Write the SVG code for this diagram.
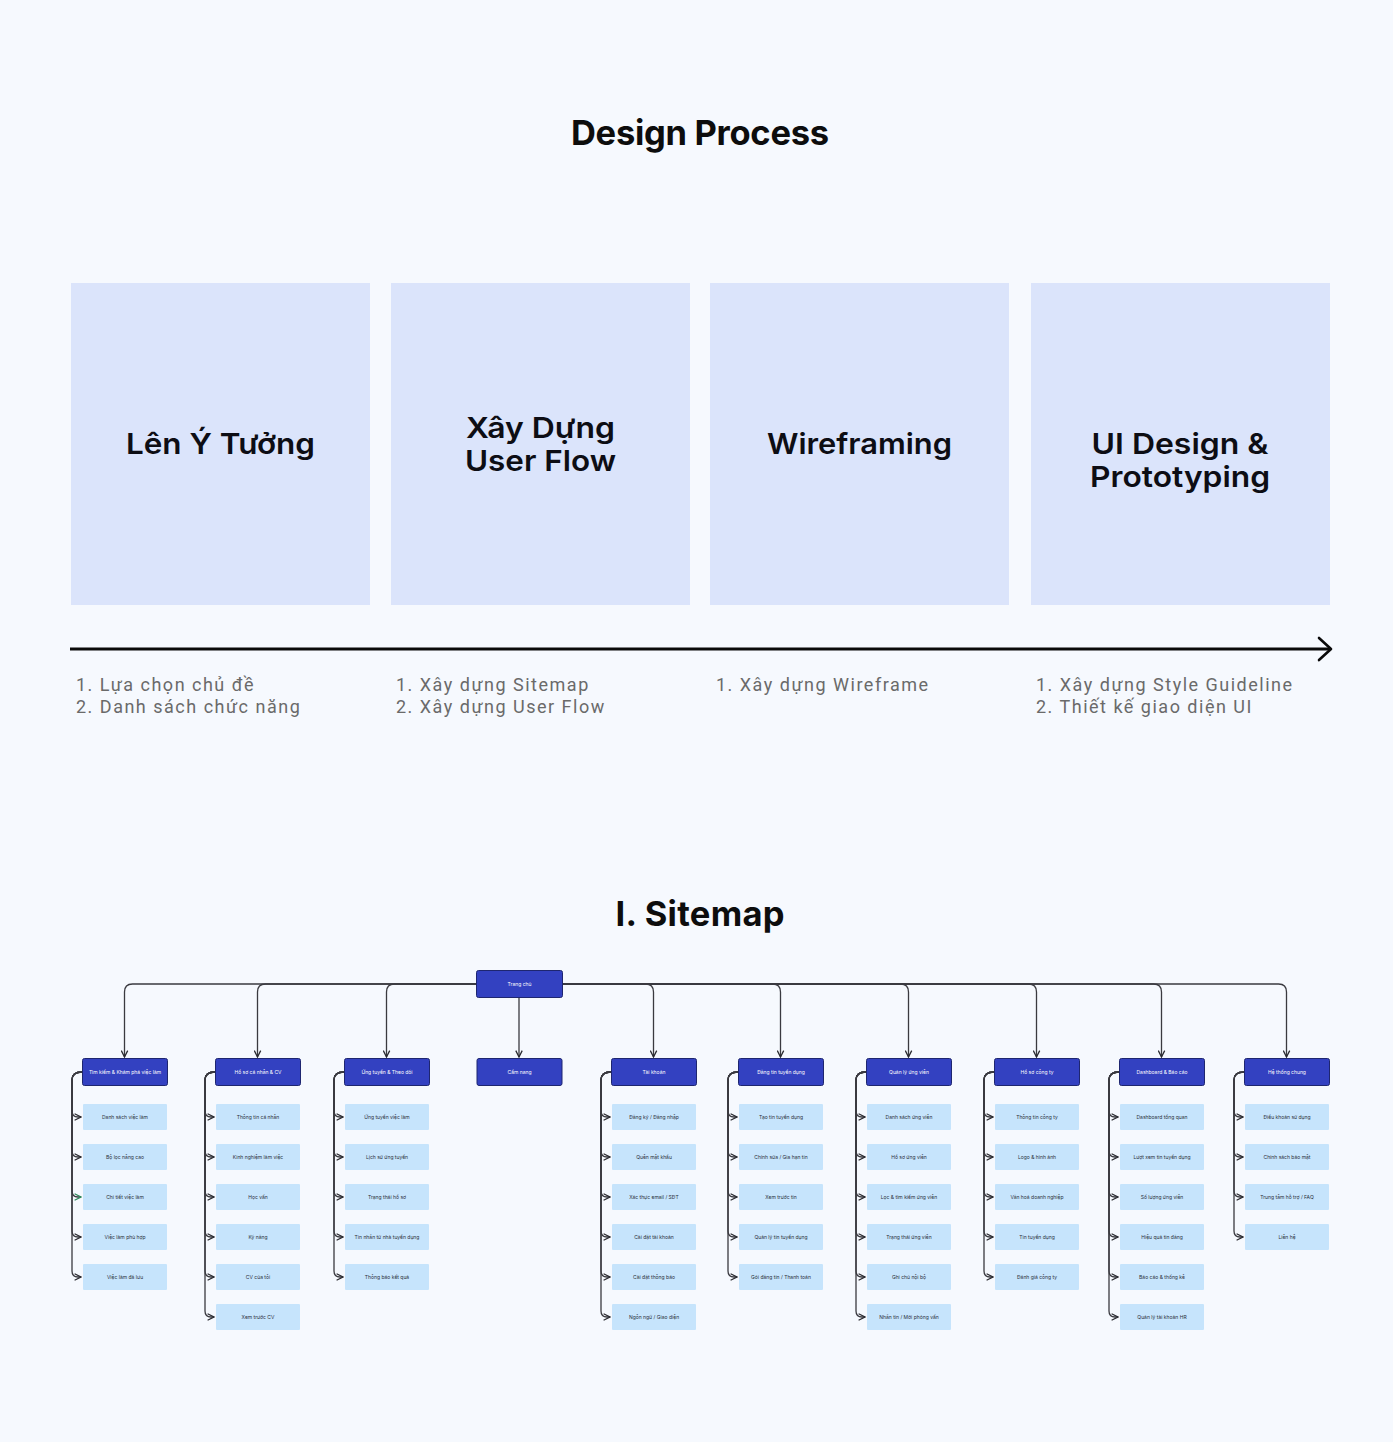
<svg xmlns="http://www.w3.org/2000/svg" width="1393" height="1442" viewBox="0 0 1393 1442">
<style>
.title{font-family:Inter,"Liberation Sans",sans-serif;font-weight:700;font-size:34.5px;fill:#0d0d0d;text-anchor:middle}
.phase{fill:#dbe4fb}
.ptxt{font-family:Inter,"Liberation Sans",sans-serif;font-weight:600;font-size:29px;fill:#0d0d14;text-anchor:middle}
.list{font-family:Roboto,"Liberation Sans",sans-serif;font-weight:400;font-size:18px;fill:#6a6a6a;letter-spacing:1.5px}
.l1{fill:#3341c1;stroke:#1e2670;stroke-width:1}
.l1t{font-family:Inter,"Liberation Sans",sans-serif;font-size:5px;fill:#ffffff;text-anchor:middle}
.ch{fill:#c6e4fc}
.cht{font-family:Inter,"Liberation Sans",sans-serif;font-size:5px;fill:#2a2f3a;text-anchor:middle}
.con{fill:none;stroke:#3a3a40;stroke-width:1.3}
</style>
<defs>
<marker id="ah" viewBox="0 0 10 10" refX="9" refY="5" markerWidth="8" markerHeight="8" markerUnits="userSpaceOnUse" orient="auto"><path d="M1,1 L9,5 L1,9" fill="none" stroke="#2a2a30" stroke-width="1.6"/></marker>
<marker id="ahg" viewBox="0 0 10 10" refX="9" refY="5" markerWidth="8" markerHeight="8" markerUnits="userSpaceOnUse" orient="auto"><path d="M1,1 L9,5 L1,9" fill="none" stroke="#2f8a5c" stroke-width="1.6"/></marker>
</defs>
<rect width="1393" height="1442" fill="#f6f9fe"/>

<text class="title" x="700" y="145" textLength="258">Design Process</text>

<g id="phase1"><rect class="phase" x="71" y="283" width="299" height="322"/><text class="ptxt" x="220.5" y="454" textLength="189" lengthAdjust="spacingAndGlyphs">Lên Ý Tưởng</text></g>
<g id="phase2"><rect class="phase" x="391" y="283" width="299" height="322"/><text class="ptxt" x="540.5" y="438" textLength="149" lengthAdjust="spacingAndGlyphs">Xây Dựng</text><text class="ptxt" x="540.5" y="471" textLength="151" lengthAdjust="spacingAndGlyphs">User Flow</text></g>
<g id="phase3"><rect class="phase" x="710" y="283" width="299" height="322"/><text class="ptxt" x="859.5" y="454" textLength="185" lengthAdjust="spacingAndGlyphs">Wireframing</text></g>
<g id="phase4"><rect class="phase" x="1031" y="283" width="299" height="322"/><text class="ptxt" x="1180" y="454" textLength="177" lengthAdjust="spacingAndGlyphs">UI Design &amp;</text><text class="ptxt" x="1180" y="487" textLength="180" lengthAdjust="spacingAndGlyphs">Prototyping</text></g>

<g id="timeline"><path d="M70 649 H1330" stroke="#0a0a0a" stroke-width="3" fill="none"/><path d="M1319 638 L1331 649 L1319 660" stroke="#0a0a0a" stroke-width="2.6" fill="none" stroke-linecap="round" stroke-linejoin="round"/></g>

<g id="notes">
<text class="list" x="76" y="691">1. Lựa chọn chủ đề</text>
<text class="list" x="76" y="713">2. Danh sách chức năng</text>
<text class="list" x="396" y="691">1. Xây dựng Sitemap</text>
<text class="list" x="396" y="713">2. Xây dựng User Flow</text>
<text class="list" x="716" y="691">1. Xây dựng Wireframe</text>
<text class="list" x="1036" y="691">1. Xây dựng Style Guideline</text>
<text class="list" x="1036" y="713">2. Thiết kế giao diện UI</text>
</g>

<text class="title" x="700" y="926" textLength="169">I. Sitemap</text>

<g id="connectors">
<path class="con" marker-end="url(#ah)" d="M476 984 H132.5 Q124.5 984 124.5 992 V1057"/>
<path class="con" marker-end="url(#ah)" d="M476 984 H265.5 Q257.5 984 257.5 992 V1057"/>
<path class="con" marker-end="url(#ah)" d="M476 984 H394.5 Q386.5 984 386.5 992 V1057"/>
<path class="con" marker-end="url(#ah)" d="M519 997 V1057"/>
<path class="con" marker-end="url(#ah)" d="M562 984 H645.5 Q653.5 984 653.5 992 V1057"/>
<path class="con" marker-end="url(#ah)" d="M562 984 H772.5 Q780.5 984 780.5 992 V1057"/>
<path class="con" marker-end="url(#ah)" d="M562 984 H900.5 Q908.5 984 908.5 992 V1057"/>
<path class="con" marker-end="url(#ah)" d="M562 984 H1028.5 Q1036.5 984 1036.5 992 V1057"/>
<path class="con" marker-end="url(#ah)" d="M562 984 H1153.5 Q1161.5 984 1161.5 992 V1057"/>
<path class="con" marker-end="url(#ah)" d="M562 984 H1278.5 Q1286.5 984 1286.5 992 V1057"/>

<!-- col1 -->
<path class="con" marker-end="url(#ah)" d="M82 1072 Q72 1072 72 1080 V1111 Q72 1117 78 1117 H81"/>
<path class="con" marker-end="url(#ah)" d="M82 1072 Q72 1072 72 1080 V1151 Q72 1157 78 1157 H81"/>
<path class="con" marker-end="url(#ahg)" d="M82 1072 Q72 1072 72 1080 V1191 Q72 1197 78 1197 H81"/>
<path class="con" marker-end="url(#ah)" d="M82 1072 Q72 1072 72 1080 V1231 Q72 1237 78 1237 H81"/>
<path class="con" marker-end="url(#ah)" d="M82 1072 Q72 1072 72 1080 V1271 Q72 1277 78 1277 H81"/>
<!-- col2 -->
<path class="con" marker-end="url(#ah)" d="M215 1072 Q205 1072 205 1080 V1111 Q205 1117 211 1117 H214"/>
<path class="con" marker-end="url(#ah)" d="M215 1072 Q205 1072 205 1080 V1151 Q205 1157 211 1157 H214"/>
<path class="con" marker-end="url(#ah)" d="M215 1072 Q205 1072 205 1080 V1191 Q205 1197 211 1197 H214"/>
<path class="con" marker-end="url(#ah)" d="M215 1072 Q205 1072 205 1080 V1231 Q205 1237 211 1237 H214"/>
<path class="con" marker-end="url(#ah)" d="M215 1072 Q205 1072 205 1080 V1271 Q205 1277 211 1277 H214"/>
<path class="con" marker-end="url(#ah)" d="M215 1072 Q205 1072 205 1080 V1311 Q205 1317 211 1317 H214"/>
<!-- col3 -->
<path class="con" marker-end="url(#ah)" d="M344 1072 Q334 1072 334 1080 V1111 Q334 1117 340 1117 H343"/>
<path class="con" marker-end="url(#ah)" d="M344 1072 Q334 1072 334 1080 V1151 Q334 1157 340 1157 H343"/>
<path class="con" marker-end="url(#ah)" d="M344 1072 Q334 1072 334 1080 V1191 Q334 1197 340 1197 H343"/>
<path class="con" marker-end="url(#ah)" d="M344 1072 Q334 1072 334 1080 V1231 Q334 1237 340 1237 H343"/>
<path class="con" marker-end="url(#ah)" d="M344 1072 Q334 1072 334 1080 V1271 Q334 1277 340 1277 H343"/>
<!-- col5 -->
<path class="con" marker-end="url(#ah)" d="M611 1072 Q601 1072 601 1080 V1111 Q601 1117 607 1117 H610"/>
<path class="con" marker-end="url(#ah)" d="M611 1072 Q601 1072 601 1080 V1151 Q601 1157 607 1157 H610"/>
<path class="con" marker-end="url(#ah)" d="M611 1072 Q601 1072 601 1080 V1191 Q601 1197 607 1197 H610"/>
<path class="con" marker-end="url(#ah)" d="M611 1072 Q601 1072 601 1080 V1231 Q601 1237 607 1237 H610"/>
<path class="con" marker-end="url(#ah)" d="M611 1072 Q601 1072 601 1080 V1271 Q601 1277 607 1277 H610"/>
<path class="con" marker-end="url(#ah)" d="M611 1072 Q601 1072 601 1080 V1311 Q601 1317 607 1317 H610"/>
<!-- col6 -->
<path class="con" marker-end="url(#ah)" d="M738 1072 Q728 1072 728 1080 V1111 Q728 1117 734 1117 H737"/>
<path class="con" marker-end="url(#ah)" d="M738 1072 Q728 1072 728 1080 V1151 Q728 1157 734 1157 H737"/>
<path class="con" marker-end="url(#ah)" d="M738 1072 Q728 1072 728 1080 V1191 Q728 1197 734 1197 H737"/>
<path class="con" marker-end="url(#ah)" d="M738 1072 Q728 1072 728 1080 V1231 Q728 1237 734 1237 H737"/>
<path class="con" marker-end="url(#ah)" d="M738 1072 Q728 1072 728 1080 V1271 Q728 1277 734 1277 H737"/>
<!-- col7 -->
<path class="con" marker-end="url(#ah)" d="M866 1072 Q856 1072 856 1080 V1111 Q856 1117 862 1117 H865"/>
<path class="con" marker-end="url(#ah)" d="M866 1072 Q856 1072 856 1080 V1151 Q856 1157 862 1157 H865"/>
<path class="con" marker-end="url(#ah)" d="M866 1072 Q856 1072 856 1080 V1191 Q856 1197 862 1197 H865"/>
<path class="con" marker-end="url(#ah)" d="M866 1072 Q856 1072 856 1080 V1231 Q856 1237 862 1237 H865"/>
<path class="con" marker-end="url(#ah)" d="M866 1072 Q856 1072 856 1080 V1271 Q856 1277 862 1277 H865"/>
<path class="con" marker-end="url(#ah)" d="M866 1072 Q856 1072 856 1080 V1311 Q856 1317 862 1317 H865"/>
<!-- col8 -->
<path class="con" marker-end="url(#ah)" d="M994 1072 Q984 1072 984 1080 V1111 Q984 1117 990 1117 H993"/>
<path class="con" marker-end="url(#ah)" d="M994 1072 Q984 1072 984 1080 V1151 Q984 1157 990 1157 H993"/>
<path class="con" marker-end="url(#ah)" d="M994 1072 Q984 1072 984 1080 V1191 Q984 1197 990 1197 H993"/>
<path class="con" marker-end="url(#ah)" d="M994 1072 Q984 1072 984 1080 V1231 Q984 1237 990 1237 H993"/>
<path class="con" marker-end="url(#ah)" d="M994 1072 Q984 1072 984 1080 V1271 Q984 1277 990 1277 H993"/>
<!-- col9 -->
<path class="con" marker-end="url(#ah)" d="M1119 1072 Q1109 1072 1109 1080 V1111 Q1109 1117 1115 1117 H1118"/>
<path class="con" marker-end="url(#ah)" d="M1119 1072 Q1109 1072 1109 1080 V1151 Q1109 1157 1115 1157 H1118"/>
<path class="con" marker-end="url(#ah)" d="M1119 1072 Q1109 1072 1109 1080 V1191 Q1109 1197 1115 1197 H1118"/>
<path class="con" marker-end="url(#ah)" d="M1119 1072 Q1109 1072 1109 1080 V1231 Q1109 1237 1115 1237 H1118"/>
<path class="con" marker-end="url(#ah)" d="M1119 1072 Q1109 1072 1109 1080 V1271 Q1109 1277 1115 1277 H1118"/>
<path class="con" marker-end="url(#ah)" d="M1119 1072 Q1109 1072 1109 1080 V1311 Q1109 1317 1115 1317 H1118"/>
<!-- col10 -->
<path class="con" marker-end="url(#ah)" d="M1244 1072 Q1234 1072 1234 1080 V1111 Q1234 1117 1240 1117 H1243"/>
<path class="con" marker-end="url(#ah)" d="M1244 1072 Q1234 1072 1234 1080 V1151 Q1234 1157 1240 1157 H1243"/>
<path class="con" marker-end="url(#ah)" d="M1244 1072 Q1234 1072 1234 1080 V1191 Q1234 1197 1240 1197 H1243"/>
<path class="con" marker-end="url(#ah)" d="M1244 1072 Q1234 1072 1234 1080 V1231 Q1234 1237 1240 1237 H1243"/>
</g>

<g id="home"><rect class="l1" x="476.5" y="970.5" width="86" height="27" rx="2"/><text class="l1t" x="519.5" y="985.8">Trang chủ</text></g>

<g id="col1">
<rect class="l1" x="82.5" y="1058.5" width="85" height="27" rx="2"/><text class="l1t" x="125" y="1073.8">Tìm kiếm &amp; Khám phá việc làm</text>
<rect class="ch" x="83" y="1104" width="84" height="26" rx="1"/><text class="cht" x="125" y="1118.8">Danh sách việc làm</text>
<rect class="ch" x="83" y="1144" width="84" height="26" rx="1"/><text class="cht" x="125" y="1158.8">Bộ lọc nâng cao</text>
<rect class="ch" x="83" y="1184" width="84" height="26" rx="1"/><text class="cht" x="125" y="1198.8">Chi tiết việc làm</text>
<rect class="ch" x="83" y="1224" width="84" height="26" rx="1"/><text class="cht" x="125" y="1238.8">Việc làm phù hợp</text>
<rect class="ch" x="83" y="1264" width="84" height="26" rx="1"/><text class="cht" x="125" y="1278.8">Việc làm đã lưu</text>
</g>
<g id="col2">
<rect class="l1" x="215.5" y="1058.5" width="85" height="27" rx="2"/><text class="l1t" x="258" y="1073.8">Hồ sơ cá nhân &amp; CV</text>
<rect class="ch" x="216" y="1104" width="84" height="26" rx="1"/><text class="cht" x="258" y="1118.8">Thông tin cá nhân</text>
<rect class="ch" x="216" y="1144" width="84" height="26" rx="1"/><text class="cht" x="258" y="1158.8">Kinh nghiệm làm việc</text>
<rect class="ch" x="216" y="1184" width="84" height="26" rx="1"/><text class="cht" x="258" y="1198.8">Học vấn</text>
<rect class="ch" x="216" y="1224" width="84" height="26" rx="1"/><text class="cht" x="258" y="1238.8">Kỹ năng</text>
<rect class="ch" x="216" y="1264" width="84" height="26" rx="1"/><text class="cht" x="258" y="1278.8">CV của tôi</text>
<rect class="ch" x="216" y="1304" width="84" height="26" rx="1"/><text class="cht" x="258" y="1318.8">Xem trước CV</text>
</g>
<g id="col3">
<rect class="l1" x="344.5" y="1058.5" width="85" height="27" rx="2"/><text class="l1t" x="387" y="1073.8">Ứng tuyển &amp; Theo dõi</text>
<rect class="ch" x="345" y="1104" width="84" height="26" rx="1"/><text class="cht" x="387" y="1118.8">Ứng tuyển việc làm</text>
<rect class="ch" x="345" y="1144" width="84" height="26" rx="1"/><text class="cht" x="387" y="1158.8">Lịch sử ứng tuyển</text>
<rect class="ch" x="345" y="1184" width="84" height="26" rx="1"/><text class="cht" x="387" y="1198.8">Trạng thái hồ sơ</text>
<rect class="ch" x="345" y="1224" width="84" height="26" rx="1"/><text class="cht" x="387" y="1238.8">Tin nhắn từ nhà tuyển dụng</text>
<rect class="ch" x="345" y="1264" width="84" height="26" rx="1"/><text class="cht" x="387" y="1278.8">Thông báo kết quả</text>
</g>
<g id="col4">
<rect class="l1" x="477" y="1058.5" width="85" height="27" rx="2"/><text class="l1t" x="519.5" y="1073.8">Cẩm nang</text>
</g>
<g id="col5">
<rect class="l1" x="611.5" y="1058.5" width="85" height="27" rx="2"/><text class="l1t" x="654" y="1073.8">Tài khoản</text>
<rect class="ch" x="612" y="1104" width="84" height="26" rx="1"/><text class="cht" x="654" y="1118.8">Đăng ký / Đăng nhập</text>
<rect class="ch" x="612" y="1144" width="84" height="26" rx="1"/><text class="cht" x="654" y="1158.8">Quên mật khẩu</text>
<rect class="ch" x="612" y="1184" width="84" height="26" rx="1"/><text class="cht" x="654" y="1198.8">Xác thực email / SĐT</text>
<rect class="ch" x="612" y="1224" width="84" height="26" rx="1"/><text class="cht" x="654" y="1238.8">Cài đặt tài khoản</text>
<rect class="ch" x="612" y="1264" width="84" height="26" rx="1"/><text class="cht" x="654" y="1278.8">Cài đặt thông báo</text>
<rect class="ch" x="612" y="1304" width="84" height="26" rx="1"/><text class="cht" x="654" y="1318.8">Ngôn ngữ / Giao diện</text>
</g>
<g id="col6">
<rect class="l1" x="738.5" y="1058.5" width="85" height="27" rx="2"/><text class="l1t" x="781" y="1073.8">Đăng tin tuyển dụng</text>
<rect class="ch" x="739" y="1104" width="84" height="26" rx="1"/><text class="cht" x="781" y="1118.8">Tạo tin tuyển dụng</text>
<rect class="ch" x="739" y="1144" width="84" height="26" rx="1"/><text class="cht" x="781" y="1158.8">Chỉnh sửa / Gia hạn tin</text>
<rect class="ch" x="739" y="1184" width="84" height="26" rx="1"/><text class="cht" x="781" y="1198.8">Xem trước tin</text>
<rect class="ch" x="739" y="1224" width="84" height="26" rx="1"/><text class="cht" x="781" y="1238.8">Quản lý tin tuyển dụng</text>
<rect class="ch" x="739" y="1264" width="84" height="26" rx="1"/><text class="cht" x="781" y="1278.8">Gói đăng tin / Thanh toán</text>
</g>
<g id="col7">
<rect class="l1" x="866.5" y="1058.5" width="85" height="27" rx="2"/><text class="l1t" x="909" y="1073.8">Quản lý ứng viên</text>
<rect class="ch" x="867" y="1104" width="84" height="26" rx="1"/><text class="cht" x="909" y="1118.8">Danh sách ứng viên</text>
<rect class="ch" x="867" y="1144" width="84" height="26" rx="1"/><text class="cht" x="909" y="1158.8">Hồ sơ ứng viên</text>
<rect class="ch" x="867" y="1184" width="84" height="26" rx="1"/><text class="cht" x="909" y="1198.8">Lọc &amp; tìm kiếm ứng viên</text>
<rect class="ch" x="867" y="1224" width="84" height="26" rx="1"/><text class="cht" x="909" y="1238.8">Trạng thái ứng viên</text>
<rect class="ch" x="867" y="1264" width="84" height="26" rx="1"/><text class="cht" x="909" y="1278.8">Ghi chú nội bộ</text>
<rect class="ch" x="867" y="1304" width="84" height="26" rx="1"/><text class="cht" x="909" y="1318.8">Nhắn tin / Mời phỏng vấn</text>
</g>
<g id="col8">
<rect class="l1" x="994.5" y="1058.5" width="85" height="27" rx="2"/><text class="l1t" x="1037" y="1073.8">Hồ sơ công ty</text>
<rect class="ch" x="995" y="1104" width="84" height="26" rx="1"/><text class="cht" x="1037" y="1118.8">Thông tin công ty</text>
<rect class="ch" x="995" y="1144" width="84" height="26" rx="1"/><text class="cht" x="1037" y="1158.8">Logo &amp; hình ảnh</text>
<rect class="ch" x="995" y="1184" width="84" height="26" rx="1"/><text class="cht" x="1037" y="1198.8">Văn hoá doanh nghiệp</text>
<rect class="ch" x="995" y="1224" width="84" height="26" rx="1"/><text class="cht" x="1037" y="1238.8">Tin tuyển dụng</text>
<rect class="ch" x="995" y="1264" width="84" height="26" rx="1"/><text class="cht" x="1037" y="1278.8">Đánh giá công ty</text>
</g>
<g id="col9">
<rect class="l1" x="1119.5" y="1058.5" width="85" height="27" rx="2"/><text class="l1t" x="1162" y="1073.8">Dashboard &amp; Báo cáo</text>
<rect class="ch" x="1120" y="1104" width="84" height="26" rx="1"/><text class="cht" x="1162" y="1118.8">Dashboard tổng quan</text>
<rect class="ch" x="1120" y="1144" width="84" height="26" rx="1"/><text class="cht" x="1162" y="1158.8">Lượt xem tin tuyển dụng</text>
<rect class="ch" x="1120" y="1184" width="84" height="26" rx="1"/><text class="cht" x="1162" y="1198.8">Số lượng ứng viên</text>
<rect class="ch" x="1120" y="1224" width="84" height="26" rx="1"/><text class="cht" x="1162" y="1238.8">Hiệu quả tin đăng</text>
<rect class="ch" x="1120" y="1264" width="84" height="26" rx="1"/><text class="cht" x="1162" y="1278.8">Báo cáo &amp; thống kê</text>
<rect class="ch" x="1120" y="1304" width="84" height="26" rx="1"/><text class="cht" x="1162" y="1318.8">Quản lý tài khoản HR</text>
</g>
<g id="col10">
<rect class="l1" x="1244.5" y="1058.5" width="85" height="27" rx="2"/><text class="l1t" x="1287" y="1073.8">Hệ thống chung</text>
<rect class="ch" x="1245" y="1104" width="84" height="26" rx="1"/><text class="cht" x="1287" y="1118.8">Điều khoản sử dụng</text>
<rect class="ch" x="1245" y="1144" width="84" height="26" rx="1"/><text class="cht" x="1287" y="1158.8">Chính sách bảo mật</text>
<rect class="ch" x="1245" y="1184" width="84" height="26" rx="1"/><text class="cht" x="1287" y="1198.8">Trung tâm hỗ trợ / FAQ</text>
<rect class="ch" x="1245" y="1224" width="84" height="26" rx="1"/><text class="cht" x="1287" y="1238.8">Liên hệ</text>
</g>
</svg>
